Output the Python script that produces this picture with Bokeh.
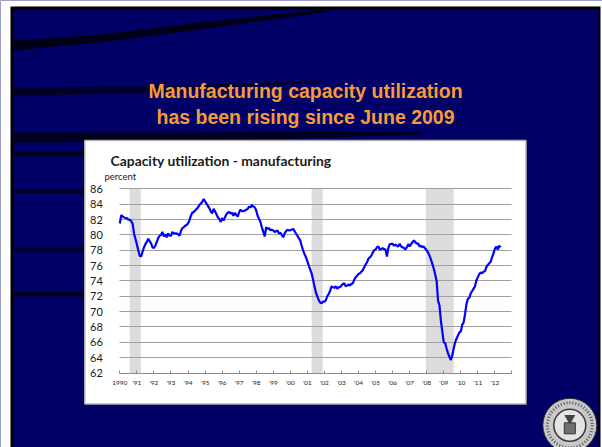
import math
from bokeh.plotting import figure
from bokeh.models import Range1d, LinearAxis, FixedTicker, Grid, Label
from bokeh.embed import file_html
from bokeh.resources import INLINE

# ---------------- data (monthly, Jan 1990 - May 2012) ----------------
start_year = 1990
util_1990s = [
    81.5, 82.6, 82.4, 82.3, 82.2, 82.2, 82.0, 82.0, 81.8, 81.5, 80.2, 79.5,   # 1990
    78.8, 78.0, 77.3, 77.2, 77.8, 78.4, 78.8, 79.1, 79.5, 79.2, 78.9, 78.4,   # 1991
    78.3, 78.6, 79.1, 79.6, 79.9, 80.0, 80.4, 79.8, 80.1, 79.7, 80.2, 79.9,   # 1992
    79.9, 80.4, 80.2, 80.2, 80.2, 80.1, 79.9, 80.5, 80.9, 81.0, 81.2, 81.3,   # 1993
    81.5, 81.9, 82.5, 82.9, 83.0, 83.2, 83.4, 83.6, 83.9, 84.1, 84.3, 84.7,   # 1994
    84.4, 84.1, 83.8, 83.5, 83.1, 82.8, 83.4, 83.1, 82.7, 82.3, 82.1, 81.7,   # 1995
    82.2, 81.9, 82.3, 82.7, 82.9, 83.0, 82.8, 82.9, 82.5, 82.9, 82.6, 82.4,   # 1996
    83.0, 83.3, 83.1, 83.1, 83.2, 83.3, 83.4, 83.7, 83.6, 83.9, 83.7, 83.6,   # 1997
    83.2, 82.5, 82.1, 81.7, 81.0, 80.4, 79.8, 81.0, 80.8, 80.9, 80.6, 80.7,   # 1998
    80.6, 80.4, 80.5, 80.6, 80.2, 80.3, 80.0, 79.7, 80.2, 80.5, 80.7, 80.6,   # 1999
]
util_2000s = [
    80.6, 80.7, 80.8, 80.5, 80.2, 79.9, 79.6, 79.3, 78.6, 78.0, 77.5, 77.1,   # 2000
    76.6, 76.0, 75.5, 75.0, 74.2, 73.3, 72.5, 72.0, 71.5, 71.2, 71.1, 71.3,   # 2001
    71.3, 71.5, 72.0, 72.3, 72.7, 73.3, 73.2, 73.1, 73.3, 73.0, 73.2, 73.2,   # 2002
    73.4, 73.6, 73.7, 73.3, 73.4, 73.55, 73.4, 73.6, 73.7, 74.15, 74.5, 74.7, # 2003
    74.9, 75.0, 75.2, 75.4, 75.8, 76.15, 76.45, 76.9, 77.1, 77.3, 77.7, 78.0, # 2004
    78.1, 78.4, 78.5, 78.1, 78.15, 78.3, 78.15, 78.1, 77.2, 78.3, 78.8, 78.85, # 2005
    78.85, 78.6, 78.75, 78.6, 78.5, 78.85, 78.5, 78.4, 78.3, 78.1, 78.4, 78.8, # 2006
    78.5, 78.8, 79.05, 79.3, 79.05, 78.85, 78.9, 78.5, 78.6, 78.4, 78.5, 78.2, # 2007
    78.0, 77.7, 77.3, 76.8, 76.2, 75.6, 74.8, 74.0, 71.4, 70.8, 68.8, 67.4,   # 2008
    66.0, 65.9, 65.2, 64.6, 64.1, 63.7, 64.3, 65.2, 66.0, 66.5, 66.9, 67.3,   # 2009
]
util_2010s = [
    67.4, 68.3, 68.6, 69.7, 71.0, 71.7, 71.8, 72.4, 72.7, 73.0, 73.3, 74.1,   # 2010
    74.5, 74.9, 75.1, 75.0, 75.2, 75.3, 75.8, 76.1, 76.3, 76.5, 77.1, 77.6,   # 2011
    78.2, 78.5, 78.1, 78.6, 78.4,                                             # 2012
]
recession_start = [1990.58, 2001.25, 2007.95]
recession_end = [1991.23, 2001.90, 2009.58]
y_ticks = [62, 64, 66, 68, 70, 72, 74, 76, 78, 80, 82, 84, 86]
year_ticks = [1990, 1991, 1992, 1993, 1994, 1995, 1996, 1997, 1998, 1999, 2000, 2001,
              2002, 2003, 2004, 2005, 2006, 2007, 2008, 2009, 2010, 2011, 2012, 2013]
year_labels = ["1990", "'91", "'92", "'93", "'94", "'95", "'96", "'97", "'98", "'99", "'00", "'01",
               "'02", "'03", "'04", "'05", "'06", "'07", "'08", "'09", "'10", "'11", "'12", ""]
slide_title = ["Manufacturing capacity utilization", "has been rising since June 2009"]
chart_title = "Capacity utilization - manufacturing"
unit_label = "percent"

util = util_1990s + util_2000s + util_2010s
months_x = [start_year + i / 12.0 for i in range(len(util))]

# ---------------- layout helpers (page pixel -> data) ----------------
W, H, OFF = 602, 447, 0
X0_PX, X_PER = 119.3, 17.05       # page x of Jan 1990, px per year
Y0_PX, Y_PER = 372.5, 7.667       # page y of 62, px per percentage point


def dx(px):
    return 1990 + (px - X0_PX) / X_PER


def dy(py):
    return 62 + (Y0_PX - py) / Y_PER


NAVY = "#000066"

p = figure(width=W, height=H, output_backend="svg", toolbar_location=None, tools="",
           x_range=Range1d(dx(OFF), dx(OFF + W)), y_range=Range1d(dy(OFF + H), dy(OFF)),
           x_axis_location=None, y_axis_location=None, min_border=0)
p.grid.visible = False
p.outline_line_color = None
p.background_fill_color = NAVY
p.border_fill_color = "white"
p.title.visible = False

# white page outside the slide, and the slide's black frame
p.quad(left=dx(0), right=dx(W), bottom=dy(H), top=dy(0), fill_color="white",
       line_color=None, level="image")
p.quad(left=dx(10), right=dx(600), bottom=dy(H), top=dy(6), fill_color="black",
       line_color=None, level="image")
p.quad(left=dx(13), right=dx(598), bottom=dy(H), top=dy(9), fill_color=NAVY,
       line_color=None, level="image")

# dark swooshes in the background
p.patch(x=[dx(13), dx(100), dx(200), dx(320), dx(330), dx(200), dx(100), dx(13)],
        y=[dy(40), dy(34), dy(22), dy(9), dy(11), dy(29), dy(42), dy(50)],
        fill_color="black", fill_alpha=0.75, line_color=None, level="image")
p.patch(x=[dx(13), dx(150), dx(320), dx(320), dx(150), dx(13)],
        y=[dy(87), dy(86), dy(80), dy(82), dy(92), dy(96)],
        fill_color="black", fill_alpha=0.6, line_color=None, level="image")
p.patch(x=[dx(13), dx(200), dx(420), dx(420), dx(200), dx(13)],
        y=[dy(132), dy(132), dy(131), dy(134), dy(141), dy(142)],
        fill_color="black", fill_alpha=0.7, line_color=None, level="image")
p.quad(left=dx(13), right=dx(84), top=[dy(151), dy(189), dy(247), dy(291)],
       bottom=[dy(156), dy(193), dy(251), dy(296)],
       fill_color="black", fill_alpha=0.7, line_color=None, level="image")

# white chart panel
p.quad(left=dx(84.3), right=dx(525.5), top=dy(140), bottom=dy(403.5), fill_color="white",
       line_color="#B4B4B4", line_width=1.5, level="image")

# recession shading
p.quad(left=recession_start, right=recession_end, bottom=y_ticks[0], top=y_ticks[-1],
       fill_color="#DCDCDC", line_color=None, level="image")

# horizontal gridlines
try:
    grid = Grid(dimension=1, ticker=FixedTicker(ticks=y_ticks), cross_bounds=(year_ticks[0], year_ticks[-1]),
                grid_line_color="#A0A0A0", grid_line_width=1.2)
    p.add_layout(grid)
except Exception:
    p.segment(x0=year_ticks[0], x1=year_ticks[-1], y0=y_ticks, y1=y_ticks,
              line_color="#A0A0A0", line_width=1.2, level="underlay")

# axes placed inside the canvas
yax = LinearAxis(fixed_location=year_ticks[0], ticker=FixedTicker(ticks=y_ticks), bounds=(y_ticks[0], y_ticks[-1]),
                 axis_line_color=None, major_tick_line_color=None, minor_tick_line_color=None,
                 major_label_standoff=11, major_label_text_font="Lato",
                 major_label_text_font_size="11px", major_label_text_color="#1a1a1a")
p.add_layout(yax, "left")
xax = LinearAxis(fixed_location=y_ticks[0], ticker=FixedTicker(ticks=year_ticks),
                 bounds=(year_ticks[0], year_ticks[-1]),
                 major_label_overrides={t: l for t, l in zip(year_ticks, year_labels)},
                 axis_line_color="#8C8C8C", axis_line_width=1,
                 major_tick_in=3, major_tick_out=0, major_tick_line_color="#8C8C8C",
                 minor_tick_line_color=None, major_label_standoff=6,
                 major_label_text_font="Lato", major_label_text_font_size="6.5px",
                 major_label_text_color="#1a1a1a")
p.add_layout(xax, "below")

# the series
p.line(x=months_x, y=util, line_color="#0000FF", line_width=2.2)

# texts
p.add_layout(Label(x=dx(110), y=dy(160), text=chart_title, text_font="Lato", text_font_style="bold",
                   text_font_size="13.9px", text_baseline="alphabetic", text_color="#1a1a1a"))
p.add_layout(Label(x=dx(104), y=dy(176), text=unit_label, text_font="Lato",
                   text_font_size="9.5px", text_baseline="alphabetic", text_color="#1a1a1a"))
for line_txt, base in zip(slide_title, [90.5, 116]):
    p.add_layout(Label(x=dx(305), y=dy(base), text=line_txt, text_font="Liberation Sans",
                       text_font_style="bold", text_font_size="19.5px", text_align="center",
                       text_baseline="alphabetic", text_color="#F79A3A"))

# seal
sx, sy = dx(569.3), dy(424.8)
p.scatter([sx], [sy], size=54, marker="circle", fill_color="#C8C8C8", line_color="#2a2a2a", line_width=1)
p.scatter([sx], [sy], size=45, marker="circle", fill_color=None, line_color="#555555", line_width=3,
          line_dash="1 2")
p.scatter([sx], [sy], size=32, marker="circle", fill_color="#E4E4E4", line_color="#3a3a3a", line_width=1.5)
p.scatter([sx], [sy - 3 / Y_PER], marker="square", size=11, fill_color="#707070", line_color="#333333")
p.scatter([sx], [sy + 7 / Y_PER], marker="triangle", angle=math.pi, size=11, fill_color="#444444",
          line_color=None)

open("out.html", "w").write(file_html(p, INLINE))
